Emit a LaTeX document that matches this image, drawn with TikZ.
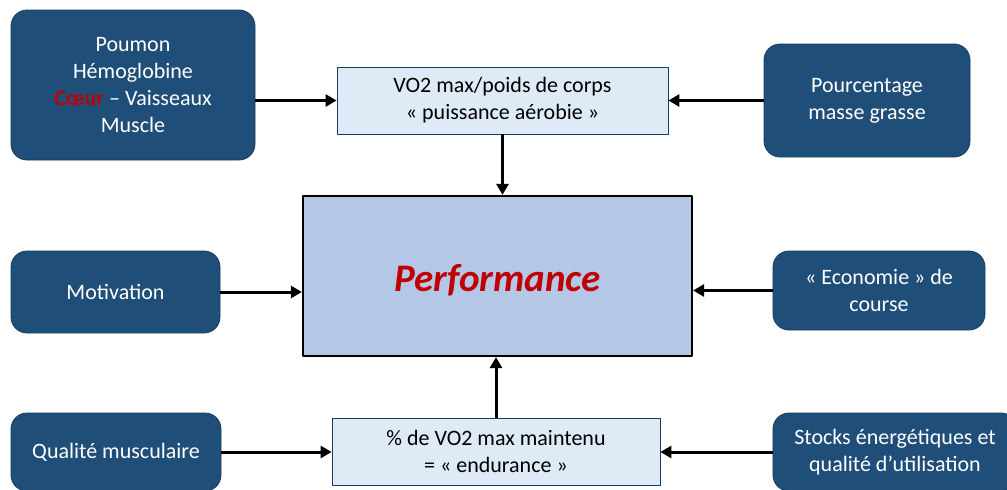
\documentclass[tikz,border=0pt]{standalone}
\usepackage{fontspec}
\setmainfont{Carlito}
\usetikzlibrary{arrows.meta}
\definecolor{navy}{RGB}{31,78,121}
\definecolor{navyline}{RGB}{24,60,96}
\definecolor{paleblue}{RGB}{222,235,247}
\definecolor{perfblue}{RGB}{180,199,231}
\definecolor{darkred}{RGB}{192,0,0}
\tikzset{
  darkbox/.style={draw=navyline,fill=navy,text=white,rounded corners=16pt,line width=0.8pt,
    align=center,inner sep=0pt,font=\fontsize{22}{27}\selectfont},
  lightbox/.style={draw=navyline,fill=paleblue,text=black,line width=0.8pt,
    align=center,inner sep=0pt,font=\fontsize{22}{27}\selectfont},
  perfbox/.style={draw=black,fill=perfblue,line width=2.2pt,inner sep=0pt,
    font=\fontsize{39}{44}\selectfont\bfseries\itshape,text=darkred},
  link/.style={line width=3pt,-{Triangle[length=11pt,width=12pt]}}
}
\begin{document}
\begin{tikzpicture}[x=1pt,y=-1pt,line join=round]
  \clip (0,0) rectangle (1007,490);
  \fill[white] (0,0) rectangle (1007,490);
  % outer boxes
  \foreach \n/\x/\y/\w/\h/\t in {
    poumon/133/85/244/150/{Poumon\\H\'emoglobine\\{\bfseries\textcolor{darkred}{C\oe ur}} -- Vaisseaux\\Muscle},
    pourc/867/100.5/206/113/{Pourcentage\\masse grasse},
    motiv/115.5/292/209/82/{Motivation},
    eco/879/290.5/212/79/{« Economie » de\\course},
    qual/116/452/210/78/{Qualit\'e musculaire},
    stocks/895/452/244/78/{Stocks \'energ\'etiques et\\qualit\'e d’utilisation}%
  }{
    \node[darkbox,minimum width=\w pt,minimum height=\h pt] (\n) at (\x,\y) {\t};
  }
  % inner boxes
  \node[lightbox,minimum width=331pt,minimum height=67pt] (vo2) at (502.5,100.5)
    {VO2 max/poids de corps\\« puissance a\'erobie »};
  \node[lightbox,minimum width=328pt,minimum height=67pt] (pct) at (496,451.5)
    {\% de VO2 max maintenu\\= « endurance »};
  \node[perfbox,minimum width=389pt,minimum height=160pt] (perf) at (497.5,276)
    {\raisebox{-4pt}[\height][\depth]{Performance}};
  % arrows
  \draw[link] (poumon.east |- vo2.west) -- (vo2.west);
  \draw[link] (pourc.west) -- (pourc.west -| vo2.east);
  \draw[link] (vo2.south) -- (vo2.south |- perf.north);
  \draw[link] (motiv.east) -- (motiv.east -| perf.west);
  \draw[link] (eco.west) -- (eco.west -| perf.east);
  \draw[link] (pct.north) -- (pct.north |- perf.south);
  \draw[link] (qual.east) -- (qual.east -| pct.west);
  \draw[link] (stocks.west) -- (stocks.west -| pct.east);
\end{tikzpicture}
\end{document}
